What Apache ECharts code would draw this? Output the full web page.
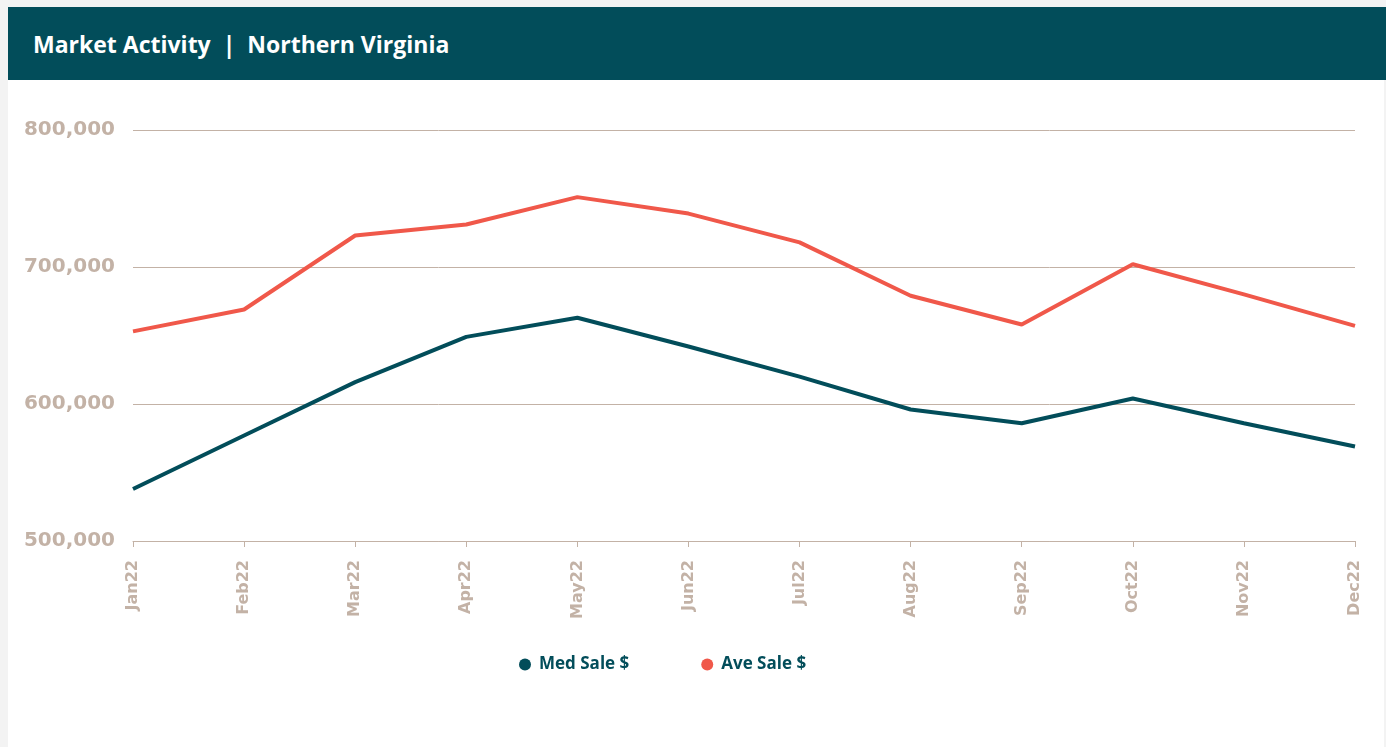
<!DOCTYPE html>
<html><head><meta charset="utf-8">
<script src="https://cdn.jsdelivr.net/npm/echarts@6/dist/echarts.min.js"></script>
<style>
html,body{margin:0;padding:0;width:1386px;height:747px;background:#f3f3f3;overflow:hidden;font-family:"Open Sans",sans-serif;}
#panel{position:absolute;left:8px;top:7px;width:1376px;height:740px;background:#fff;}
#header{position:absolute;left:8px;top:7px;width:1378px;height:73px;background:#024d5a;}
#title{position:absolute;left:33px;top:28px;color:#fff;font-size:23px;font-weight:bold;line-height:32px;white-space:pre;}
#chart{position:absolute;left:0;top:0;width:1386px;height:747px;}
</style></head>
<body>
<div id="panel"></div>
<div id="header"></div>
<div id="title">Market Activity  |  Northern Virginia</div>
<div id="chart"></div>
<script>
const categories = ['Jan22','Feb22','Mar22','Apr22','May22','Jun22','Jul22','Aug22','Sep22','Oct22','Nov22','Dec22'];
const medSale = [538000,577000,616000,649000,663000,642000,620000,596000,586000,604000,586000,569000];
const aveSale = [653000,669000,723000,731000,751000,739000,718000,679000,658000,702000,680000,657000];
const chart = echarts.init(document.getElementById('chart'));
const tan = '#c3b2a6';
chart.setOption({
  animation:false,
  grid:{left:133,right:31,top:130,bottom:206},
  legend:{
    data:['Med Sale $','Ave Sale $'],
    top:651,left:514,itemGap:72,icon:'circle',itemWidth:12,itemHeight:12,
    textStyle:{color:'#024d5a',fontSize:17,fontWeight:'bold',fontFamily:'Open Sans',padding:[0,0,0,3]}
  },
  xAxis:{
    type:'category',data:categories,boundaryGap:false,
    axisLine:{lineStyle:{color:tan,width:1}},
    axisTick:{show:true,length:6,lineStyle:{color:tan}},
    axisLabel:{rotate:90,color:tan,fontSize:16,fontWeight:'bold',fontFamily:'DejaVu Sans',margin:19}
  },
  yAxis:{
    type:'value',min:500000,max:800000,interval:100000,
    axisLine:{show:false},axisTick:{show:false},
    splitLine:{lineStyle:{color:tan,width:1}},
    axisLabel:{color:tan,fontSize:20,fontWeight:'bold',fontFamily:'DejaVu Sans',margin:18,
      formatter:v=>v.toLocaleString('en-US')}
  },
  series:[
    {name:'Med Sale $',type:'line',data:medSale,showSymbol:false,symbol:'circle',color:'#024d5a',lineStyle:{width:4,color:'#024d5a'}},
    {name:'Ave Sale $',type:'line',data:aveSale,showSymbol:false,symbol:'circle',color:'#f0584a',lineStyle:{width:4,color:'#f0584a'}}
  ]
});
</script>
</body></html>
